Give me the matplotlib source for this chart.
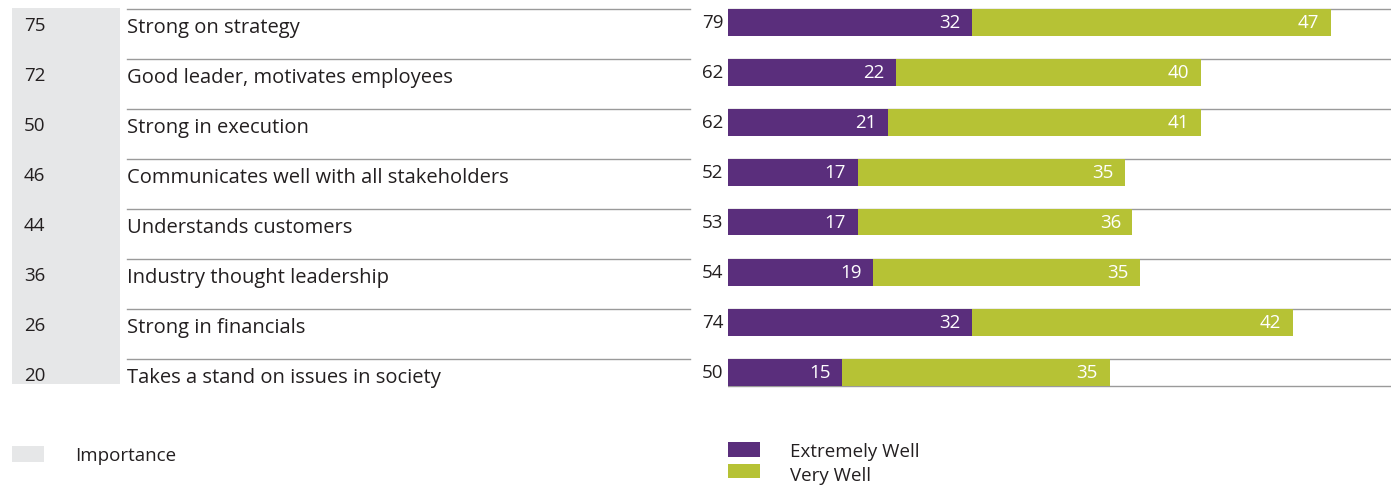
import matplotlib
matplotlib.use("Agg")
import matplotlib.pyplot as plt
from matplotlib.patches import Rectangle

categories = ["Strong on strategy", "Good leader, motivates employees", "Strong in execution",
              "Communicates well with all stakeholders", "Understands customers",
              "Industry thought leadership", "Strong in financials",
              "Takes a stand on issues in society"]
importance = [75, 72, 50, 46, 44, 36, 26, 20]
extremely_well = [32, 22, 21, 17, 17, 19, 32, 15]
very_well = [47, 40, 41, 35, 36, 35, 42, 35]
totals = [79, 62, 62, 52, 53, 54, 74, 50]

PURPLE = "#5a2e7c"
GREEN = "#b6c235"
GRAY = "#e6e7e8"
TXT = "#231f20"
LINE = "#9a9a9a"

plt.rcParams['font.family'] = ['Open Sans', 'DejaVu Sans']

W, H = 1391, 489
fig = plt.figure(figsize=(W / 100, H / 100), dpi=100)

# background axes in pixel coordinates for the table part
bg = fig.add_axes([0, 0, 1, 1])
bg.set_xlim(0, W)
bg.set_ylim(H, 0)
bg.axis("off")

bg.add_patch(Rectangle((12, 9), 108, 376, facecolor=GRAY, edgecolor="none"))
fs = 14.5
fn = 13.5
for i, (cat, imp) in enumerate(zip(categories, importance)):
    yc = 28 + 50 * i
    bg.text(24, yc - 2, str(imp), ha="left", va="center", fontsize=fn, color=TXT)
    bg.text(127, yc, cat, ha="left", va="center", fontsize=fs, color=TXT)
    ly = 10 + 50 * i
    bg.plot([127, 690], [ly, ly], color=LINE, lw=1.0)

# legend
bg.add_patch(Rectangle((12, 447), 32, 16, facecolor=GRAY, edgecolor="none"))
bg.text(75, 456, "Importance", ha="left", va="center", fontsize=fn, color=TXT)
bg.add_patch(Rectangle((728, 443), 32, 15, facecolor=PURPLE, edgecolor="none"))
bg.text(790, 452, "Extremely Well", ha="left", va="center", fontsize=fn, color=TXT)
bg.add_patch(Rectangle((728, 465), 32, 14, facecolor=GREEN, edgecolor="none"))
bg.text(790, 476, "Very Well", ha="left", va="center", fontsize=fn, color=TXT)

# bar axes
x0 = 728
ax = fig.add_axes([x0 / W, 1 - 400 / H, (W - x0) / W, 400 / H])
ax.patch.set_alpha(0)
px_per_unit = 7.63
ax.set_xlim(0, (W - x0) / px_per_unit)
ax.set_ylim((400 - 23) / 50, -23 / 50)
ax.axis("off")

ys = list(range(len(categories)))
bh = 0.54
for i in ys:
    ax.axhline(i - bh / 2, color=LINE, lw=1.0, zorder=0)
ax.axhline(ys[-1] + bh / 2, color=LINE, lw=1.0, zorder=0)

ax.barh(ys, extremely_well, height=bh, color=PURPLE, zorder=2)
ax.barh(ys, very_well, left=extremely_well, height=bh, color=GREEN, zorder=2)

for i in ys:
    e, v, t = extremely_well[i], very_well[i], totals[i]
    ax.text(e - 1.5, i, str(e), ha="right", va="center", color="white", fontsize=fn, zorder=3)
    ax.text(e + v - 1.5, i, str(v), ha="right", va="center", color="white", fontsize=fn, zorder=3)
    ax.text(-0.6, i, str(t), ha="right", va="center", color=TXT, fontsize=fn, clip_on=False)

fig.savefig("out.png", dpi=100)
